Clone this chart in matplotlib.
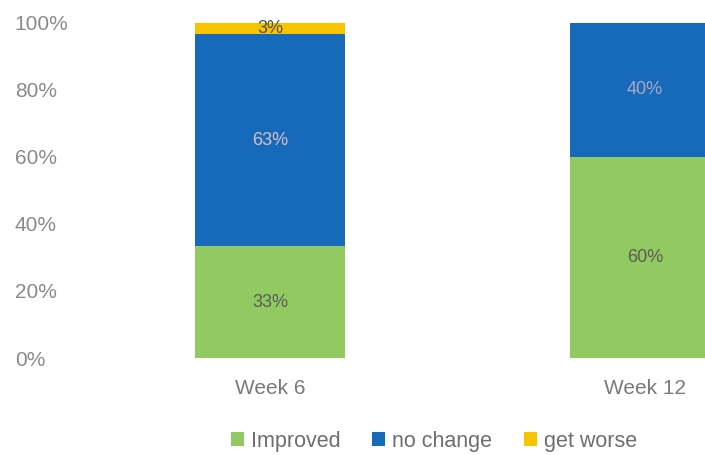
import numpy as np
import matplotlib.pyplot as plt
from matplotlib.patches import Patch

plt.rcParams['font.family'] = ['Liberation Sans', 'DejaVu Sans']

# data
weeks = ['Week 6', 'Week 12']
improved = [33.3, 60.0]
no_change = [63.4, 40.0]
get_worse = [3.3, 0.0]
series_names = ['Improved', 'no change', 'get worse']
yticks = [0, 20, 40, 60, 80, 100]

colors = ['#92ca62', '#1769ba', '#f6c400']
label_colors = [['#5a5a5a', '#5a5a5a'], ['#d9c0cc', '#a9a9c4'], ['#4f4f4f', '#4f4f4f']]

fig = plt.figure(figsize=(7.05, 4.55), dpi=100)
W, H = 705, 455
# axes from x=80px to right edge, 0% at y=358px, 100% at y=23px
ax = fig.add_axes([80 / W, (H - 358) / H, 1 - 80 / W, (358 - 23) / H])

x = np.arange(len(weeks))
bottom = np.zeros(len(weeks))
for i, vals in enumerate([improved, no_change, get_worse]):
    vals = np.array(vals)
    ax.bar(x, vals, width=0.4, bottom=bottom, color=colors[i], linewidth=0)
    for j in range(len(weeks)):
        if vals[j] > 0:
            ax.text(x[j], bottom[j] + vals[j] / 2, '%d%%' % round(vals[j]),
                    ha='center', va='center', fontsize=13,
                    color=label_colors[i][j])
    bottom += vals

# category centres at 270px and 645px
ax.set_xlim((80 - 270) / 375, (705 - 270) / 375)
ax.set_ylim(0, 100)
ax.set_yticks(yticks)
ax.set_yticklabels(['%d%%' % v for v in yticks], ha='left', color='#8a8a8a', fontsize=15,
                   va='center_baseline')
ax.tick_params(axis='y', length=0, pad=47)
ax.set_xticks(x)
ax.set_xticklabels(weeks, color='#7a7a7a', fontsize=15)
ax.tick_params(axis='x', length=0, pad=15)
for s in ax.spines.values():
    s.set_visible(False)

handles = [Patch(facecolor=c, edgecolor='none') for c in colors]
fig.legend(handles, series_names, loc='center', bbox_to_anchor=(434 / W, 1 - 441 / H),
           ncol=3, frameon=False, fontsize=15.5, handlelength=0.6, handleheight=0.6,
           handletextpad=0.35, columnspacing=1.45, labelcolor='#6e6e6e')

fig.savefig('out.png', dpi=100)
